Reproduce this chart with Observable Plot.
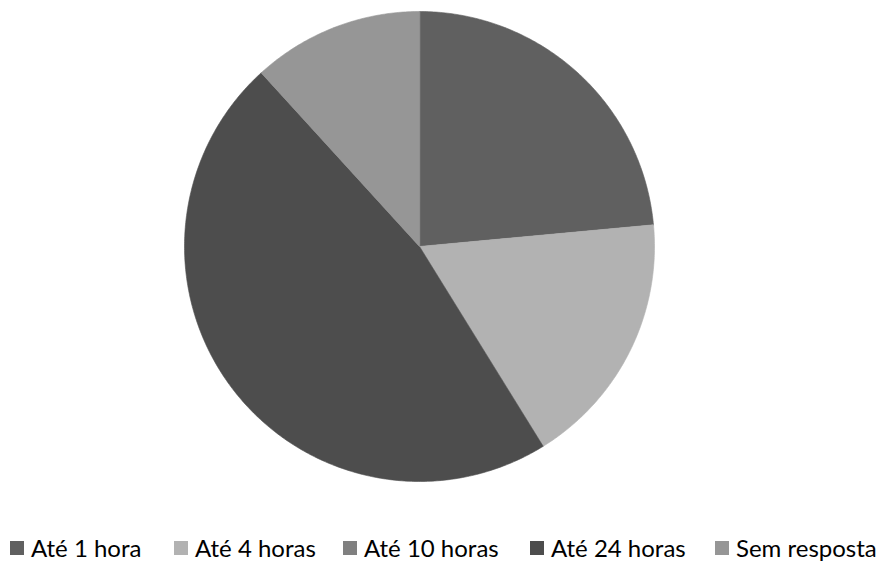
<!DOCTYPE html>
<html>
<head>
<meta charset="utf-8">
<script src="https://cdn.jsdelivr.net/npm/d3@7"></script>
<script src="https://cdn.jsdelivr.net/npm/@observablehq/plot@0.6"></script>
<style>
  html, body { margin: 0; padding: 0; background: #fff; }
  #wrap { position: relative; width: 883px; height: 561px; font-family: Lato, "Open Sans", sans-serif; }
  .item { position: absolute; top: 536px; height: 24px; display: flex; align-items: center; font-size: 24px; line-height: 24px; color: #000; white-space: nowrap; }
  .sw { width: 14px; height: 14px; margin-right: 7px; display: inline-block; flex: none; }
</style>
</head>
<body>
<div id="wrap"></div>
<script>
const categories = ["Até 1 hora", "Até 4 horas", "Até 10 horas", "Até 24 horas", "Sem resposta"];
const values = [4, 3, 0, 8, 2];
const colors = ["#606060", "#b2b2b2", "#808080", "#4d4d4d", "#969696"];
const legendLeft = [10, 174, 343, 530, 715];

const rows = categories.map((c, i) => ({key: c, value: values[i]}));
const arcs = d3.pie().sort(null).value(d => d.value)(rows);
const pts = [];
for (const a of arcs) {
  if (a.endAngle - a.startAngle <= 0) continue;
  const n = Math.max(2, Math.ceil((a.endAngle - a.startAngle) / 0.01));
  pts.push({key: a.data.key, x: 0, y: 0});
  for (let i = 0; i <= n; i++) {
    const t = a.startAngle + (a.endAngle - a.startAngle) * i / n;
    pts.push({key: a.data.key, x: Math.sin(t), y: Math.cos(t)});
  }
}

const chart = Plot.plot({
  width: 883,
  height: 492,
  marginLeft: 184,
  marginRight: 229,
  marginTop: 11,
  marginBottom: 11,
  x: {domain: [-1, 1], axis: null},
  y: {domain: [-1, 1], axis: null},
  color: {type: "ordinal", domain: categories, range: colors},
  marks: [
    Plot.line(pts, {x: "x", y: "y", z: "key", fill: "key", stroke: "key", strokeWidth: 0.6, curve: "linear-closed"})
  ]
});
chart.style.display = "block";
const wrap = document.getElementById("wrap");
wrap.appendChild(chart);

categories.forEach((c, i) => {
  const it = document.createElement("div");
  it.className = "item";
  it.style.left = legendLeft[i] + "px";
  const sw = document.createElement("span");
  sw.className = "sw";
  sw.style.background = colors[i];
  const tx = document.createElement("span");
  tx.textContent = c;
  it.appendChild(sw);
  it.appendChild(tx);
  wrap.appendChild(it);
});
</script>
</body>
</html>
